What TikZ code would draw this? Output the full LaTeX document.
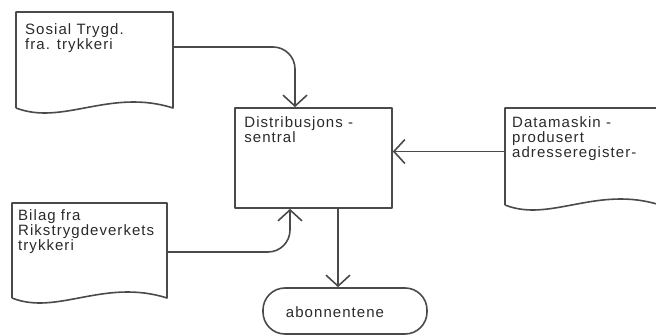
\documentclass[tikz,border=0pt]{standalone}
\usepackage{fontspec}
\setmainfont{Liberation Sans}
\newfontfamily\handfont[LetterSpace=7]{Liberation Sans}
\usetikzlibrary{arrows.meta}
\definecolor{ink}{HTML}{4A4A4A}
\definecolor{txt}{HTML}{2A2A2A}
\tikzset{
  shapebox/.style={draw=none, minimum width=#1, inner sep=0pt, outer sep=0pt},
  stroke/.style={draw=ink, line width=1.6pt, line join=round},
  conn/.style={draw=ink, line width=1.6pt, -{Straight Barb[length=11pt,width=24pt,line width=1.6pt]}},
  hand/.style={font=\handfont\fontsize{15}{15}\selectfont, text=txt, align=left, inner sep=0pt, anchor=north west},
}
\newcommand{\docwave}[1]{%
  \draw[stroke] (#1.south west) -- (#1.north west) -- (#1.north east) -- (#1.south east)
    .. controls ([xshift=-63pt,yshift=20pt]#1.south east) and ([xshift=-110pt,yshift=-18pt]#1.south east) .. (#1.south west);}
\begin{document}
\begin{tikzpicture}[x=1pt,y=-1pt]
\useasboundingbox (0,0) rectangle (656,336);
\clip (0,0) rectangle (656,336);
% documents
\node[shapebox=157pt, minimum height=96pt] (d1) at (94.5,60) {};
\node[shapebox=155pt, minimum height=95pt] (d2) at (89.5,250.5) {};
\node[shapebox=155pt, minimum height=97pt] (d3) at (582.5,156.5) {};
\docwave{d1}
\docwave{d2}
\docwave{d3}
\node[hand] (t1) at ([xshift=9pt,yshift=-11pt]d1.north west) {Sosial Trygd.\\fra. trykkeri};
\node[hand] (t2) at ([xshift=6pt,yshift=-6pt]d2.north west) {Bilag fra\\Rikstrygdeverkets\\trykkeri};
\node[hand] (t3) at ([xshift=7pt,yshift=-8pt]d3.north west) {Datamaskin -\\produsert\\adresseregister-};
% central box
\node[stroke, minimum width=157pt, minimum height=100pt, inner sep=0pt] (box) at (313.5,158) {};
\node[hand] (tb) at ([xshift=10pt,yshift=-9pt]box.north west) {Distribusjons -\\sentral};
% terminal
\node[stroke, rounded corners=22pt, minimum width=164pt, minimum height=46pt, inner sep=0pt] (term) at (345,311) {};
\node[font=\handfont\fontsize{15}{15}\selectfont, text=txt, inner sep=0pt] (tt) at ([xshift=-10pt,yshift=-1pt]term.center) {abonnentene};
% connectors
\draw[conn, rounded corners=22pt] ([yshift=13pt]d1.east) -| ([xshift=-18.5pt]box.north);
\draw[conn, rounded corners=22pt] ([yshift=-1.5pt]d2.east) -| ([xshift=-23.5pt]box.south);
\draw[conn] ([yshift=5pt]d3.west) -- ([yshift=5pt]d3.west -| box.east);
\draw[conn] ([xshift=24.5pt]box.south) -- ([xshift=24.5pt]box.south |- term.north);
\end{tikzpicture}
\end{document}
